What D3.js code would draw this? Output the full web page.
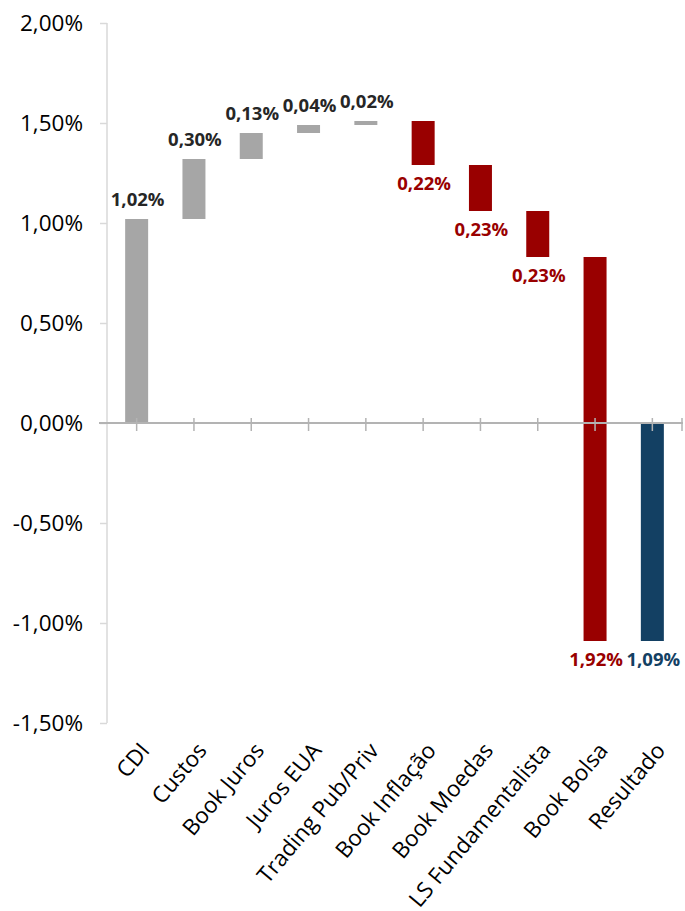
<!DOCTYPE html>
<html>
<head>
<meta charset="utf-8">
<script src="https://cdn.jsdelivr.net/npm/d3@7"></script>
<style>
  html, body { margin: 0; padding: 0; background: #fff; }
  svg { display: block; font-family: "Open Sans", "Noto Sans", sans-serif; }
</style>
</head>
<body>
<svg id="chart" width="685" height="911"></svg>
<script>
// Attribution steps (percentage points) and the closing total
const categories = ["CDI", "Custos", "Book Juros", "Juros EUA", "Trading Pub/Priv",
                    "Book Inflação", "Book Moedas", "LS Fundamentalista", "Book Bolsa", "Resultado"];
const steps = [1.02, 0.30, 0.13, 0.04, 0.02, -0.22, -0.23, -0.23, -1.92];
const totalLabel = "Resultado";
const yTicks = [-1.5, -1.0, -0.5, 0, 0.5, 1.0, 1.5, 2.0];

const colors = { up: "#a6a6a6", down: "#990000", total: "#134063" };
const labelColors = { up: "#262626", down: "#990000", total: "#134063" };

// Build the floating segments
let running = 0;
const rows = steps.map((d, i) => {
  const start = running;
  running += d;
  return { name: categories[i], start, end: running, value: d, kind: d >= 0 ? "up" : "down" };
});
rows.push({ name: totalLabel, start: 0, end: running, value: running, kind: "total" });

const svg = d3.select("#chart");

const y = d3.scaleLinear().domain([-1.5, 2.0]).range([723, 23]);
const x = d3.scaleBand().domain(categories).range([108, 681]);
const barW = 23;

const fmt = v => d3.format(".2f")(Math.abs(v)).replace(".", ",") + "%";

// Y axis
const yAxis = svg.append("g").attr("transform", "translate(107,0)")
  .call(d3.axisLeft(y).tickValues(yTicks).tickSize(7).tickPadding(17)
    .tickFormat(v => d3.format(".2f")(v).replace(".", ",").replace("−", "-") + "%"));
yAxis.select(".domain").attr("stroke", "#d9d9d9").attr("stroke-width", 1.5)
  .attr("d", `M0,${y(2.0)}V${y(-1.5)}`);
yAxis.selectAll(".tick line").attr("stroke", "#d9d9d9").attr("stroke-width", 1.5);
yAxis.selectAll(".tick text").attr("fill", "#000").attr("font-size", 22.5)
  .attr("font-family", "'Open Sans', sans-serif");

// Bars
svg.append("g").selectAll("rect").data(rows).join("rect")
  .attr("x", d => x(d.name) + x.bandwidth() / 2 - barW / 2)
  .attr("width", barW)
  .attr("y", d => y(Math.max(d.start, d.end)))
  .attr("height", d => Math.abs(y(d.start) - y(d.end)))
  .attr("fill", d => colors[d.kind]);

// Zero line with category ticks
const y0 = y(0);
const xAxis = svg.append("g");
xAxis.append("line").attr("x1", 99).attr("x2", 683).attr("y1", y0).attr("y2", y0)
  .attr("stroke", "#b3b3b3").attr("stroke-width", 2);
const tickXs = categories.map(c => x(c) + x.bandwidth() / 2).concat([x.range()[1] + 1]);
xAxis.selectAll("line.tk").data(tickXs).join("line").attr("class", "tk")
  .attr("x1", d => d).attr("x2", d => d).attr("y1", y0 - 5).attr("y2", y0 + 8)
  .attr("stroke", "#b3b3b3").attr("stroke-width", 1.5);

// Category labels, rotated
svg.append("g").selectAll("text").data(categories).join("text")
  .attr("transform", d => `translate(${x(d) + x.bandwidth() / 2 + 8},${746}) rotate(-50)`)
  .attr("text-anchor", "end")
  .attr("dy", "0.35em")
  .attr("font-size", 22.5)
  .attr("fill", "#000")
  .text(d => d);

// Value labels
svg.append("g").selectAll("text").data(rows).join("text")
  .attr("x", d => x(d.name) + x.bandwidth() / 2 + 1)
  .attr("y", d => d.kind === "up" ? y(d.end) - 13 : y(Math.min(d.start, d.end)) + 25)
  .attr("text-anchor", "middle")
  .attr("font-size", 18.5)
  .attr("font-weight", "bold")
  .attr("fill", d => labelColors[d.kind])
  .text(d => fmt(d.value));
</script>
</body>
</html>
